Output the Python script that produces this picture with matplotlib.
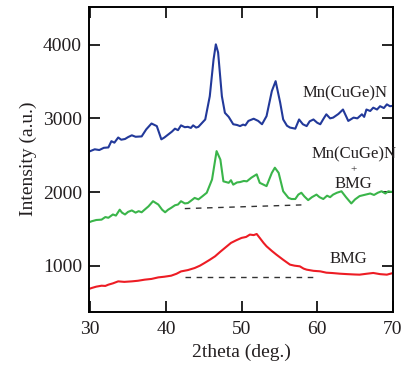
import matplotlib
matplotlib.use("Agg")
import matplotlib.pyplot as plt

plt.rcParams['font.family'] = ['Liberation Serif', 'DejaVu Serif']

# Mn(CuGe)N (blue)
tt_blue = [30.0, 30.6, 31.2, 31.8, 32.4, 32.8, 33.2, 33.7, 34.1, 34.6, 35.0, 35.5,
           36.0, 36.8, 37.4, 38.1, 38.8, 39.4, 39.8, 40.3, 40.8, 41.2, 41.6, 42.0,
           42.5, 42.9, 43.3, 43.6, 44.0, 44.3, 45.2, 45.8, 46.3, 46.6, 46.9, 47.4,
           47.8, 48.3, 48.9, 49.4, 49.8, 50.2, 50.5, 50.9, 51.6, 52.2, 52.7, 53.3,
           54.0, 54.5, 55.1, 55.5, 56.0, 56.4, 57.1, 57.6, 58.1, 58.6, 59.0, 59.5,
           60.0, 60.4, 60.8, 61.2, 61.7, 62.1, 62.8, 63.4, 64.1, 64.8, 65.3, 65.9,
           66.2, 66.5, 67.0, 67.4, 67.9, 68.3, 68.8, 69.2, 69.6, 70.0]
int_blue = [2555, 2580, 2570, 2600, 2605, 2690, 2670, 2740, 2710, 2720, 2745, 2770,
            2750, 2755, 2850, 2930, 2895, 2715, 2740, 2780, 2820, 2860, 2840, 2905,
            2880, 2885, 2870, 2905, 2875, 2885, 2985, 3300, 3800, 4005, 3895, 3300,
            3075, 3020, 2920, 2910, 2895, 2915, 2905, 2965, 2995, 2965, 2920, 3030,
            3370, 3505, 3215, 2985, 2900, 2875, 2860, 2985, 2920, 2895, 2960, 2985,
            2940, 2920, 2990, 3055, 3000, 3010, 3060, 3120, 2965, 3010, 3000, 3055,
            3020, 3120, 3100, 3145, 3120, 3165, 3140, 3190, 3165, 3170]

# Mn(CuGe)N + BMG (green)
tt_green = [30.0, 30.2, 30.8, 31.5, 32.0, 32.4, 33.0, 33.4, 33.9, 34.2, 34.6, 35.0,
            35.5, 36.0, 36.4, 36.8, 37.3, 37.7, 38.3, 39.0, 39.5, 39.9, 40.3, 40.7,
            41.2, 41.6, 42.0, 42.5, 42.9, 43.3, 43.8, 44.3, 44.8, 45.4, 46.1, 46.7,
            47.2, 47.6, 48.3, 48.6, 48.9, 49.4, 49.8, 50.3, 50.7, 51.3, 52.0, 52.4,
            53.3, 54.0, 54.4, 54.9, 55.5, 56.2, 56.6, 57.1, 57.5, 57.9, 58.3, 58.8,
            59.3, 59.9, 60.3, 60.8, 61.3, 61.7, 62.1, 62.6, 63.2, 63.8, 64.5, 65.0,
            65.6, 66.2, 67.0, 67.5, 68.0, 68.5, 69.0, 69.4, 69.8, 70.0]
int_green = [1595, 1603, 1620, 1625, 1660, 1650, 1695, 1680, 1760, 1720, 1695, 1730,
             1750, 1720, 1740, 1725, 1770, 1805, 1875, 1830, 1760, 1725, 1760, 1785,
             1820, 1830, 1875, 1845, 1850, 1880, 1920, 1900, 1940, 1990, 2170, 2555,
             2440, 2145, 2125, 2160, 2100, 2130, 2135, 2150, 2145, 2195, 2240, 2125,
             2080, 2260, 2330, 2260, 2010, 1920, 1905, 1905, 1965, 1990, 1940, 1890,
             1930, 1965, 1930, 1905, 1950, 1930, 1965, 1990, 2010, 1930, 1845, 1900,
             1945, 1960, 1980, 1960, 1990, 2010, 1980, 2010, 2000, 2010]

# BMG (red)
tt_red = [30.0, 30.2, 30.8, 31.5, 32.0, 32.4, 33.0, 33.7, 34.5, 35.5, 36.3, 37.2,
          38.1, 39.0, 39.8, 40.7, 41.4, 42.0, 42.9, 43.8, 44.5, 45.1, 45.8, 46.5,
          47.2, 47.8, 48.6, 49.3, 50.0, 50.6, 51.1, 51.6, 52.0, 52.4, 52.9, 53.3,
          54.0, 54.6, 55.5, 56.4, 57.0, 57.7, 58.2, 58.6, 59.5, 60.4, 61.2, 62.0,
          63.0, 64.0, 65.0, 65.6, 66.5, 67.4, 68.3, 69.2, 70.0]
int_red = [690, 697, 715, 728, 725, 742, 760, 787, 780, 787, 795, 810,
           820, 841, 850, 864, 890, 922, 940, 968, 1000, 1036, 1080, 1127,
           1190, 1241, 1309, 1345, 1377, 1390, 1422, 1415, 1430, 1377, 1310, 1263,
           1200, 1150, 1080, 1014, 1000, 991, 960, 946, 930, 923, 905, 900,
           891, 885, 880, 878, 890, 901, 885, 878, 900]

# dashed baselines under the amorphous hump
base_green_tt = [42.5, 58.0]
base_green_int = [1775, 1825]
base_red_tt = [42.5, 59.5]
base_red_int = [846, 846]

xticks = [30, 40, 50, 60, 70]
yticks = [1000, 2000, 3000, 4000]

fig = plt.figure(figsize=(4.03, 3.76), dpi=100)
ax = fig.add_axes([0.221, 0.171, 0.754, 0.811])

ax.plot(tt_blue, int_blue, color='#22399a', lw=1.5)
ax.plot(tt_green, int_green, color='#3ab54a', lw=1.5)
ax.plot(tt_red, int_red, color='#ed1c24', lw=1.5)
ax.plot(base_green_tt, base_green_int, color='#333333', lw=1.0, ls=(0, (4, 4)))
ax.plot(base_red_tt, base_red_int, color='#333333', lw=1.0, ls=(0, (4, 4)))

txt = '#231f20'
ax.text(63.7, 3340, 'Mn(CuGe)N', ha='center', va='center', fontsize=12, color=txt)
ax.text(64.8, 2510, 'Mn(CuGe)N', ha='center', va='center', fontsize=12, color=txt, clip_on=False)
ax.text(64.8, 2300, '+', ha='center', va='center', fontsize=8, color=txt)
ax.text(64.8, 2105, 'BMG', ha='center', va='center', fontsize=12, color=txt)
ax.text(64.1, 1095, 'BMG', ha='center', va='center', fontsize=12, color=txt)

ax.set_xlim(29.85, 70.0)
ax.set_ylim(375, 4515)
ax.set_xticks(xticks)
ax.set_yticks(yticks)
ax.tick_params(direction='in', length=8, width=1.2, top=True, right=True,
               labelsize=14, colors='black', labelcolor=txt)
ax.tick_params(axis='y', pad=5)
ax.tick_params(axis='x', pad=7)
for s in ax.spines.values():
    s.set_linewidth(1.4)

ax.set_xlabel('2theta (deg.)', fontsize=14, color=txt, labelpad=4)
ax.set_ylabel('Intensity (a.u.)', fontsize=14, color=txt, labelpad=4)

fig.savefig('out.png', dpi=100)
